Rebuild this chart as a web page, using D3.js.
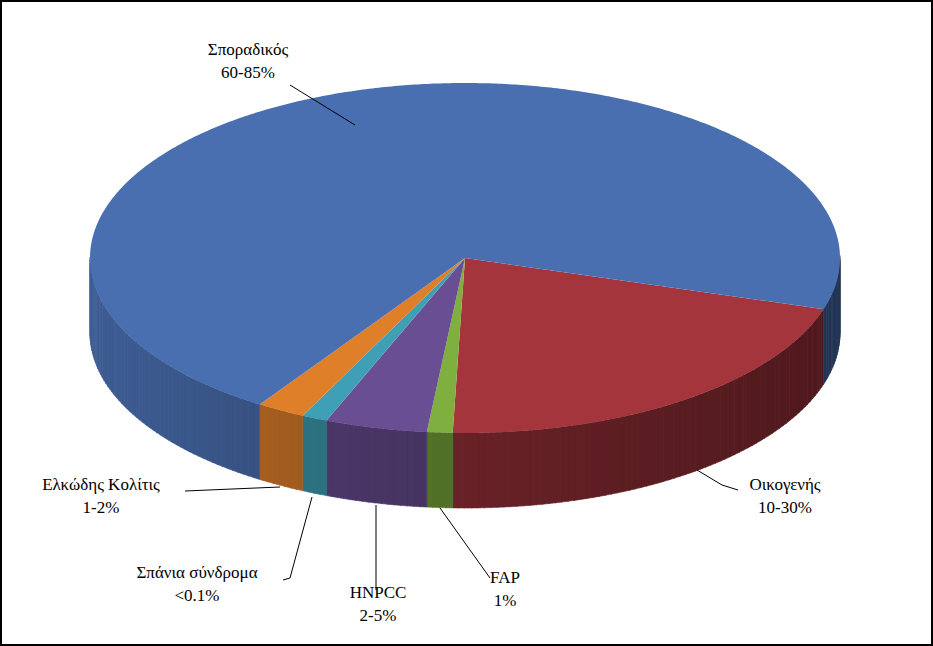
<!DOCTYPE html>
<html><head><meta charset="utf-8">
<script src="https://cdn.jsdelivr.net/npm/d3@7"></script>
<style>body{margin:0;background:#fff}svg{display:block}text{font-family:"Liberation Serif","DejaVu Serif",serif}</style>
</head><body><div id="chart"></div>
<script>
const names = ["Οικογενής", "FAP", "HNPCC", "Σπάνια σύνδρομα", "Ελκώδης Κολίτις", "Σποραδικός"];
const ranges = ["10-30%", "1%", "2-5%", "<0.1%", "1-2%", "60-85%"];
const values = [20.8, 1.1, 4.4, 1.1, 2.1, 70.5];
const colors = ["#a5353d", "#7faf3e", "#6a4e94", "#3fa0b5", "#e07f2a", "#4a6fb0"];
// label anchor (text centre) and leader polyline, in pixels
const labelPos = [[785, 490], [505, 583], [378, 598], [197, 578], [101, 490], [248, 55]];
const leaders = [
  [[697, 470], [722, 485], [738, 490]],
  [[440, 508], [490, 578]],
  [[376, 505], [376, 590]],
  [[312, 497], [290, 578], [283, 580]],
  [[280, 487], [185, 491]],
  [[355, 125], [290, 85]]
];

const W = 933, H = 646;
const cx = 465, cy = 258, rx = 375, ry = 175, depth = 75;
const start = 17 * Math.PI / 180;

const svg = d3.select("#chart").append("svg").attr("width", W).attr("height", H);
svg.append("rect").attr("x", 1).attr("y", 1).attr("width", W - 2).attr("height", H - 2)
  .attr("fill", "#fff").attr("stroke", "#000").attr("stroke-width", 2);

const pie = d3.pie().sort(null).startAngle(start).endAngle(start + 2 * Math.PI);
const arcs = pie(values);
const pt = (a, dy = 0) => [cx + rx * Math.cos(a), cy + ry * Math.sin(a) + dy];

// side walls, in small strips for shading
const g = svg.append("g");
arcs.forEach((d, i) => {
  const a0 = d.startAngle, a1 = d.endAngle;
  const step = Math.PI / 180;
  for (let a = a0; a < a1; a += step) {
    const b = Math.min(a + step * 1.1, a1);
    const mid = (a + b) / 2;
    if (Math.sin(a) < 0 && Math.sin(b) < 0) continue;
    const f = 0.42 + 0.36 * Math.cos(mid - Math.PI);
    const c = d3.color(colors[i]).darker(2.2 * (1 - f));
    const p = [pt(a), pt(b), pt(b, depth), pt(a, depth)];
    g.append("path").attr("d", "M" + p.join("L") + "Z").attr("fill", c).attr("stroke", c).attr("stroke-width", 0.6);
  }
});

// top faces
arcs.forEach((d, i) => {
  const pts = d3.range(d.startAngle, d.endAngle, Math.PI / 360).concat([d.endAngle]).map(a => pt(a));
  g.append("path").attr("d", "M" + [cx, cy] + "L" + pts.join("L") + "Z").attr("fill", colors[i]);
});

// labels
const line = d3.line();
leaders.forEach(l => svg.append("path").attr("d", line(l)).attr("fill", "none").attr("stroke", "#000").attr("stroke-width", 1));
names.forEach((n, i) => {
  const t = svg.append("text").attr("x", labelPos[i][0]).attr("y", labelPos[i][1])
    .attr("text-anchor", "middle").attr("font-size", 17).attr("fill", "#000");
  t.append("tspan").attr("x", labelPos[i][0]).attr("dy", 0).text(n);
  t.append("tspan").attr("x", labelPos[i][0]).attr("dy", 23).text(ranges[i]);
});
</script></body></html>
